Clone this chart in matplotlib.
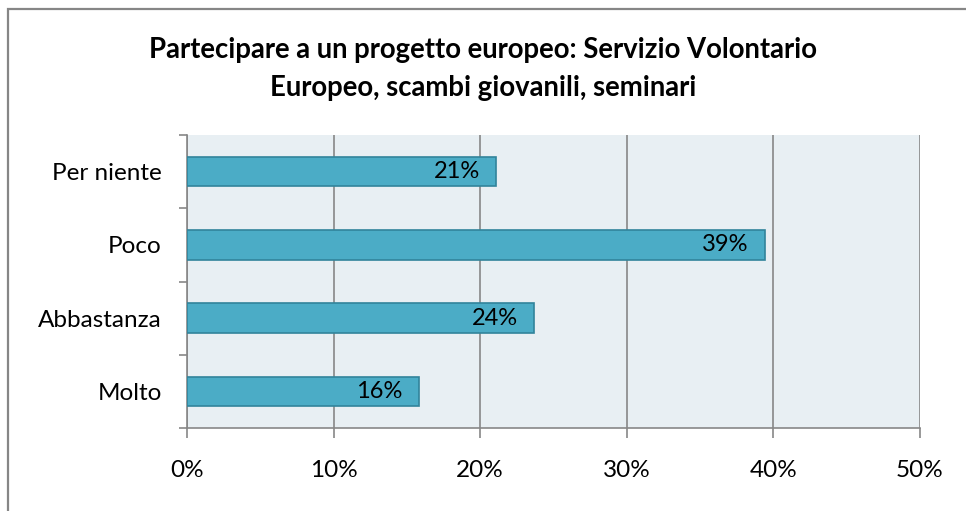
import matplotlib.pyplot as plt
from matplotlib.patches import Rectangle
from matplotlib.ticker import MultipleLocator, FuncFormatter

plt.rcParams['font.family'] = ['Lato', 'DejaVu Sans']

categories = ['Per niente', 'Poco', 'Abbastanza', 'Molto']
values = [21.1, 39.4, 23.7, 15.8]
title = 'Partecipare a un progetto europeo: Servizio Volontario\nEuropeo, scambi giovanili, seminari'

W, H = 966, 511
fig = plt.figure(figsize=(W / 100, H / 100), dpi=100)

# outer chart frame (runs off the right and bottom edges)
fig.patches.append(Rectangle((8 / W, -0.1), 1.2, 1.1 - 9 / H, transform=fig.transFigure,
                             fill=False, edgecolor='#868686', linewidth=1.6))

ax = fig.add_axes([187 / W, (H - 428) / H, (920 - 187) / W, (428 - 135) / H])
ax.set_facecolor('#E8EFF3')

pos = list(range(len(categories)))
ax.barh(pos, values, height=0.4, color='#4BACC6', edgecolor='#31849B', linewidth=1.2, zorder=3)
for p, v in zip(pos, values):
    ax.annotate(f'{v:.0f}%', (v, p), xytext=(-12, 0), textcoords='offset points',
                ha='right', va='center', fontsize=17, color='black', zorder=4)

ax.set_xlim(0, 50)
ax.set_ylim(len(categories) - 0.5, -0.5)
ax.xaxis.set_major_locator(MultipleLocator(10))
ax.xaxis.set_major_formatter(FuncFormatter(lambda x, _: f'{x:.0f}%'))
ax.grid(axis='x', color='#878787', linewidth=1.2, zorder=1)
ax.set_axisbelow(True)

ax.set_yticks(pos)
ax.set_yticklabels(categories)
ax.set_yticks([i - 0.5 for i in range(len(categories) + 1)], minor=True)
ax.tick_params(axis='y', which='major', length=0, pad=18, labelsize=17.5)
ax.tick_params(axis='y', which='minor', length=6, width=1.2, color='#878787', direction='out')
ax.tick_params(axis='x', length=7, width=1.2, color='#878787', labelsize=17.5, pad=16)

for s in ['top', 'right']:
    ax.spines[s].set_visible(False)
for s in ['left', 'bottom']:
    ax.spines[s].set_color('#878787')
    ax.spines[s].set_linewidth(1.2)

fig.text(0.5, 1 - 69 / H, title, ha='center', va='center', fontsize=19.8, fontweight='bold',
         linespacing=1.58)

fig.savefig('out.png', dpi=100)
